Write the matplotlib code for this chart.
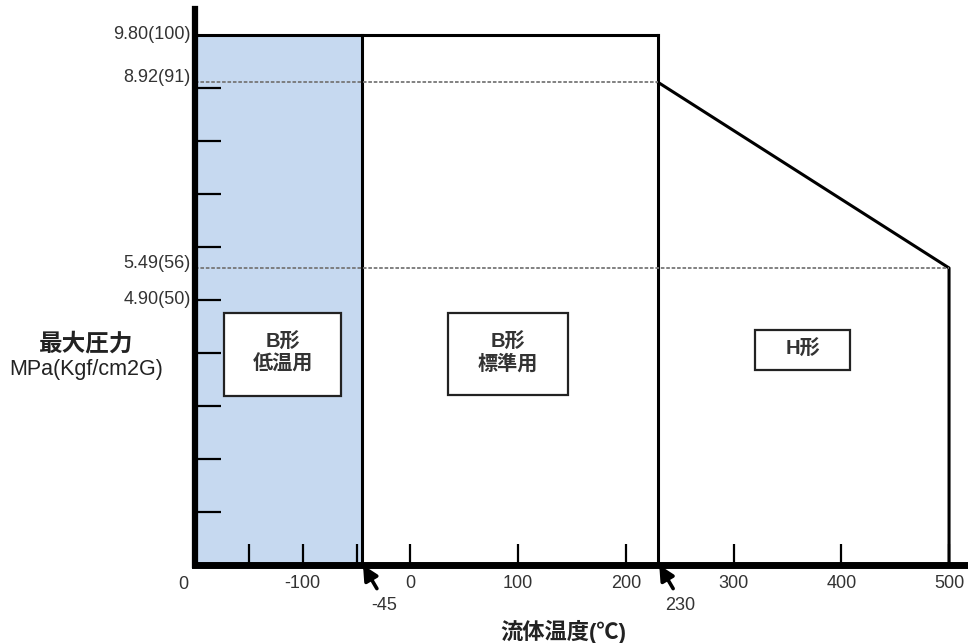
# encoding=utf-8
'''
最大圧力 - 流体温度 の使用範囲図
'''
import matplotlib.pyplot as plt
from matplotlib.patches import Rectangle
from matplotlib.transforms import blended_transform_factory

plt.rcParams['font.family'] = ['Liberation Sans', 'Noto Sans CJK JP']
plt.rcParams['axes.unicode_minus'] = False

# データ
t_min = -200
t_low = -45          # B形 低温用 / 標準用 の境界
t_high = 230         # B形 / H形 の境界
t_max = 500
p_top = 9.80         # B形 最大圧力
p_h_start = 8.92     # H形 230℃での圧力
p_h_end = 5.49       # H形 500℃での圧力

x_ticks = [-200, -150, -100, -50, 0, 100, 200, 300, 400, 500]
x_tick_labels = ['', '', '-100', '', '0', '100', '200', '300', '400', '500']
kgf_ticks = [10, 20, 30, 40, 50, 60, 70, 80, 90]
p_label_values = [9.80, 8.92, 5.49, 4.90]
p_labels = ['9.80(100)', '8.92(91)', '5.49(56)', '4.90(50)']
p_label_offsets = [0, 0.09, 0.09, 0]

# ボックス: (x0, x1, y0, y1, 文字)
boxes = [
    (-173, -64, 3.12, 4.66, 'B形\n低温用'),
    (35, 146, 3.14, 4.66, 'B形\n標準用'),
    (320, 408, 3.6, 4.34, 'H形'),
]

fig = plt.figure(figsize=(9.68, 6.43), dpi=100)
ax = fig.add_axes([0.2014, 0.1213, 0.7986, 0.865])
ax.set_xlim(t_min, 517.6)
ax.set_ylim(0, 10.28)

# 低温用の範囲(青)
ax.fill_between([t_min, t_low], 0, p_top, color='#c6d9f0', zorder=0)

# 外形線
lw = 2.2
ax.plot([t_min, t_high], [p_top, p_top], color='black', lw=lw)
ax.plot([t_low, t_low], [0, p_top], color='black', lw=lw)
ax.plot([t_high, t_high], [0, p_top], color='black', lw=lw)
ax.plot([t_high, t_max, t_max], [p_h_start, p_h_end, 0], color='black', lw=lw)

# 点線
ax.plot([t_min, t_high], [p_h_start, p_h_start], color='#777777', lw=1.3, ls=(0, (2, 1)))
ax.plot([t_min, t_max], [p_h_end, p_h_end], color='#777777', lw=1.3, ls=(0, (2, 1)))

# 軸
for s in ['top', 'right']:
    ax.spines[s].set_visible(False)
ax.spines['left'].set_linewidth(4.5)
ax.spines['bottom'].set_linewidth(5)
ax.spines['left'].set_zorder(5)
ax.spines['bottom'].set_zorder(5)

ax.set_xticks(x_ticks)
ax.set_xticklabels(x_tick_labels, fontsize=13, color='#333333')
ax.tick_params(axis='x', direction='in', length=15, width=1.6, pad=7)
ax.set_yticks([k * 0.098 for k in kgf_ticks])
ax.set_yticklabels([])
ax.tick_params(axis='y', direction='in', length=19, width=1.6)

# 左端の "0"
ax.text(-211, -0.2, '0', ha='center', va='top', fontsize=13, color='#333333')

# 圧力ラベル
ytr = blended_transform_factory(fig.transFigure, ax.transData)
for v, lab, off in zip(p_label_values, p_labels, p_label_offsets):
    ax.text(191 / 968, v + off, lab, transform=ytr, ha='right', va='center',
            fontsize=13, color='#333333')

# 境界温度の矢印
for t in [t_low, t_high]:
    ax.annotate('', xy=(t + 1, 0), xytext=(10, -17), textcoords='offset points',
                arrowprops=dict(arrowstyle='-|>,head_length=0.9,head_width=0.45',
                                color='black', lw=2.6, shrinkA=0, shrinkB=0),
                annotation_clip=False, zorder=6)
    ax.annotate(str(t), xy=(t, 0), xytext=(16, -29), textcoords='offset points',
                ha='center', va='center', fontsize=13, color='#333333',
                annotation_clip=False)

# ボックス
for x0, x1, y0, y1, txt in boxes:
    ax.add_patch(Rectangle((x0, y0), x1 - x0, y1 - y0, facecolor='white',
                           edgecolor='#222222', lw=1.6, zorder=3))
    ax.text((x0 + x1) / 2, (y0 + y1) / 2 + 0.02, txt, ha='center', va='center',
            fontsize=14.5, fontweight='bold', color='#333333', linespacing=1.15, zorder=4)

# 軸ラベル
fig.text(86 / 968, 1 - 344 / 643, '最大圧力', ha='center', va='center',
         fontsize=17, fontweight='bold', color='#222222')
fig.text(86 / 968, 1 - 369 / 643, 'MPa(Kgf/cm2G)', ha='center', va='center',
         fontsize=15.5, color='#222222')
fig.text(563 / 968, 1 - 632 / 643, '流体温度(℃)', ha='center', va='center',
         fontsize=16, fontweight='bold', color='#222222')

fig.savefig('out.png', dpi=100)
